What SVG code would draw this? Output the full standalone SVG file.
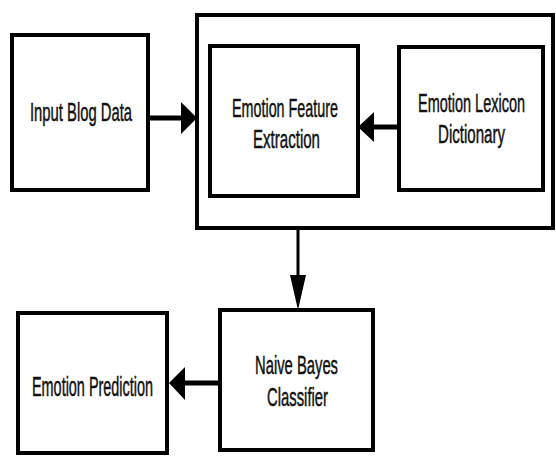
<svg xmlns="http://www.w3.org/2000/svg" width="556" height="456" viewBox="0 0 556 456">
  <style>
    .box { fill: #ffffff; stroke: #000000; stroke-width: 4; }
    .lbl { font-family: "Liberation Sans", Arial, sans-serif; font-size: 26px; fill: #111111; stroke: #111111; stroke-width: 0.5; text-anchor: start; }
    .line { stroke: #000000; fill: none; }
    .head { fill: #000000; stroke: none; }
  </style>
  <rect x="0" y="0" width="556" height="456" fill="#ffffff"/>

  <!-- outer frame around the feature stage -->
  <g id="feature-stage">
    <rect class="box" x="197" y="15" width="356" height="213"/>
  </g>

  <g id="input-blog-data">
    <rect class="box" x="12" y="35" width="136" height="155"/>
    <text class="lbl" x="30" y="121" textLength="102" lengthAdjust="spacingAndGlyphs">Input Blog Data</text>
  </g>

  <g id="emotion-feature-extraction">
    <rect class="box" x="210" y="46" width="148" height="150"/>
    <text class="lbl" x="232" y="117" textLength="106" lengthAdjust="spacingAndGlyphs">Emotion Feature</text>
    <text class="lbl" x="253" y="148" textLength="67" lengthAdjust="spacingAndGlyphs">Extraction</text>
  </g>

  <g id="emotion-lexicon-dictionary">
    <rect class="box" x="399" y="47" width="144" height="143"/>
    <text class="lbl" x="418" y="112" textLength="107" lengthAdjust="spacingAndGlyphs">Emotion Lexicon</text>
    <text class="lbl" x="438" y="143" textLength="67" lengthAdjust="spacingAndGlyphs">Dictionary</text>
  </g>

  <g id="naive-bayes-classifier">
    <rect class="box" x="220" y="310" width="153" height="140"/>
    <text class="lbl" x="255" y="374" textLength="83" lengthAdjust="spacingAndGlyphs">Naive Bayes</text>
    <text class="lbl" x="267" y="406" textLength="61" lengthAdjust="spacingAndGlyphs">Classifier</text>
  </g>

  <g id="emotion-prediction">
    <rect class="box" x="18" y="313" width="149" height="140"/>
    <text class="lbl" x="32" y="396" textLength="121" lengthAdjust="spacingAndGlyphs" style="font-size:27px">Emotion Prediction</text>
  </g>

  <g id="connectors">
    <!-- input data into the feature stage -->
    <line class="line" x1="148" y1="118" x2="183" y2="118" stroke-width="5"/>
    <polygon class="head" points="197,118 181,102 181,134"/>
    <!-- lexicon into feature extraction -->
    <line class="line" x1="399" y1="127" x2="372" y2="127" stroke-width="5"/>
    <polygon class="head" points="358,127 374,112 374,142"/>
    <!-- feature stage down to the classifier -->
    <line class="line" x1="298" y1="228" x2="298" y2="278" stroke-width="3"/>
    <polygon class="head" points="298,310 290,275 306,275"/>
    <!-- classifier to prediction -->
    <line class="line" x1="220" y1="383" x2="183" y2="383" stroke-width="5"/>
    <polygon class="head" points="169,383 185,367 185,400"/>
  </g>
</svg>
